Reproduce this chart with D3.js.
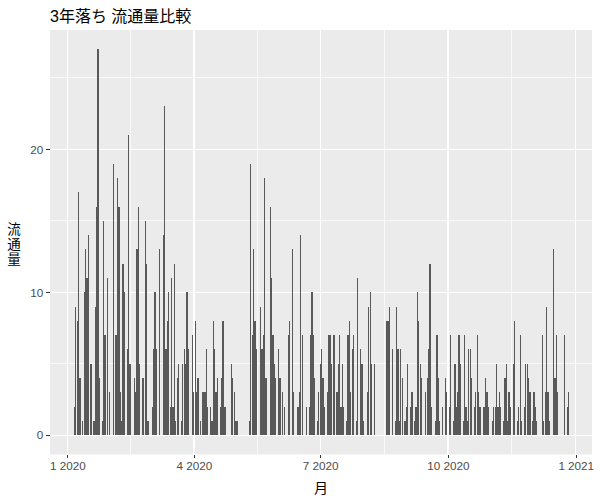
<!DOCTYPE html>
<html>
<head>
<meta charset="utf-8">
<script src="https://cdn.jsdelivr.net/npm/d3@7"></script>
<style>
  html, body { margin: 0; padding: 0; background: #ffffff; }
  svg { display: block; }
  text { font-family: "Liberation Sans", Arial, "Noto Sans CJK JP", sans-serif; }
</style>
</head>
<body>
<div id="chart"></div>
<script>
// ---------------- data ----------------
const chartTitle = "3年落ち 流通量比較";
const xTitle = "月";
const yTitle = "流通量";

const dates = [
"2020-01-06","2020-01-07","2020-01-08","2020-01-09","2020-01-10","2020-01-12","2020-01-13","2020-01-14","2020-01-15","2020-01-16",
"2020-01-18","2020-01-20","2020-01-21","2020-01-22","2020-01-23","2020-01-24","2020-01-26","2020-01-27","2020-01-28","2020-01-30",
"2020-01-31","2020-02-03","2020-02-05","2020-02-06","2020-02-07","2020-02-08","2020-02-09","2020-02-10","2020-02-11","2020-02-13",
"2020-02-14","2020-02-15","2020-02-18","2020-02-19","2020-02-20","2020-02-21","2020-02-22","2020-02-24","2020-02-25","2020-02-26",
"2020-02-27","2020-02-28","2020-03-02","2020-03-03","2020-03-04","2020-03-05","2020-03-07","2020-03-10","2020-03-11","2020-03-12",
"2020-03-13","2020-03-14","2020-03-15","2020-03-16","2020-03-17","2020-03-18","2020-03-19","2020-03-20","2020-03-21","2020-03-23",
"2020-03-24","2020-03-25","2020-03-26","2020-03-27","2020-03-28","2020-03-31","2020-04-01","2020-04-02","2020-04-03","2020-04-04",
"2020-04-06","2020-04-07","2020-04-08","2020-04-09","2020-04-10","2020-04-11","2020-04-13","2020-04-14","2020-04-15","2020-04-16",
"2020-04-17","2020-04-18","2020-04-20","2020-04-21","2020-04-22","2020-04-23","2020-04-24","2020-04-28","2020-04-29","2020-04-30",
"2020-05-01","2020-05-02","2020-05-11","2020-05-12","2020-05-13","2020-05-14","2020-05-15","2020-05-16","2020-05-19","2020-05-20",
"2020-05-21","2020-05-22","2020-05-23","2020-05-26","2020-05-27","2020-05-28","2020-05-29","2020-05-30","2020-06-01","2020-06-02",
"2020-06-04","2020-06-05","2020-06-08","2020-06-09","2020-06-11","2020-06-12","2020-06-15","2020-06-16","2020-06-17","2020-06-18",
"2020-06-21","2020-06-23","2020-06-24","2020-06-25","2020-06-26","2020-06-27","2020-06-29","2020-06-30","2020-07-01","2020-07-02",
"2020-07-03","2020-07-04","2020-07-06","2020-07-07","2020-07-08","2020-07-09","2020-07-11","2020-07-13","2020-07-14","2020-07-15",
"2020-07-16","2020-07-17","2020-07-18","2020-07-20","2020-07-21","2020-07-22","2020-07-23","2020-07-24","2020-07-25","2020-07-27",
"2020-07-28","2020-07-30","2020-07-31","2020-08-01","2020-08-04","2020-08-05","2020-08-06","2020-08-07","2020-08-09","2020-08-18",
"2020-08-19","2020-08-20","2020-08-22","2020-08-24","2020-08-25","2020-08-26","2020-08-27","2020-08-28","2020-08-29","2020-08-31",
"2020-09-01","2020-09-02","2020-09-04","2020-09-05","2020-09-07","2020-09-08","2020-09-09","2020-09-10","2020-09-11","2020-09-12",
"2020-09-15","2020-09-16","2020-09-17","2020-09-18","2020-09-19","2020-09-22","2020-09-23","2020-09-24","2020-09-25","2020-09-27",
"2020-09-29","2020-09-30","2020-10-02","2020-10-03","2020-10-05","2020-10-06","2020-10-07","2020-10-08","2020-10-09","2020-10-10",
"2020-10-12","2020-10-13","2020-10-14","2020-10-15","2020-10-16","2020-10-17","2020-10-18","2020-10-20","2020-10-21","2020-10-22",
"2020-10-23","2020-10-24","2020-10-27","2020-10-28","2020-10-29","2020-10-30","2020-11-02","2020-11-03","2020-11-04","2020-11-05",
"2020-11-06","2020-11-07","2020-11-08","2020-11-10","2020-11-11","2020-11-12","2020-11-13","2020-11-14","2020-11-15","2020-11-17",
"2020-11-18","2020-11-20","2020-11-21","2020-11-22","2020-11-23","2020-11-25","2020-11-26","2020-11-27","2020-11-28","2020-11-29",
"2020-12-01","2020-12-02","2020-12-03","2020-12-04","2020-12-08","2020-12-09","2020-12-10","2020-12-11","2020-12-12","2020-12-13",
"2020-12-16","2020-12-17","2020-12-18","2020-12-19","2020-12-24","2020-12-26","2020-12-27"
];

const counts = [
2,9,8,17,4,1,10,13,11,14,
5,1,9,16,27,4,1,15,7,11,
3,19,7,18,16,3,1,12,10,6,
21,5,4,3,13,16,5,4,4,15,
12,1,2,6,10,6,13,14,23,6,
8,10,2,11,2,12,1,4,5,1,
5,6,5,10,6,7,3,8,3,4,
1,3,3,3,6,2,2,1,8,6,
3,4,2,4,8,2,2,5,4,3,
1,1,1,19,7,13,8,6,9,6,
7,18,4,16,11,7,5,4,6,4,
3,2,7,8,13,3,2,3,14,7,
2,2,7,10,7,4,1,3,5,6,
4,2,3,7,7,5,7,3,5,7,
2,5,2,1,7,8,3,6,7,1,
11,6,5,1,3,9,10,5,5,8,
8,9,6,1,9,6,1,6,4,1,
2,5,2,3,1,2,10,8,5,4,
3,4,6,12,2,1,7,4,1,2,
4,3,2,7,1,5,2,3,7,5,
1,7,2,1,6,6,4,2,3,7,
3,2,2,4,3,2,1,2,2,5,
2,3,2,1,4,5,1,3,2,5,
8,1,2,7,1,2,5,5,4,3,
1,3,2,1,7,1,3,9,3,1,
13,4,7,3,7,2,3
];

const xTickDates = ["2020-01-01","2020-04-01","2020-07-01","2020-10-01","2021-01-01"];
const yTicks = [0, 10, 20];
const yMinorTicks = [5, 15, 25];

// ---------------- layout ----------------
const W = 600, H = 500;
const panel = { left: 50, right: 592, top: 30, bottom: 454.5 };
const DAY = 864e5;

const parse = d3.utcParse("%Y-%m-%d");
const data = dates.map((d, i) => ({ date: parse(d), value: counts[i] }));
const majorDates = xTickDates.map(parse);
const minorDates = d3.pairs(majorDates).map(([a, b]) => new Date((+a + +b) / 2));

const x = d3.scaleUtc()
  .domain([new Date(+majorDates[0] - 12.6 * DAY), new Date(+majorDates[majorDates.length - 1] + 11.7 * DAY)])
  .range([panel.left, panel.right]);

const y = d3.scaleLinear()
  .domain([-1.35, 28.35])
  .range([panel.bottom, panel.top]);

const svg = d3.select("#chart").append("svg")
  .attr("width", W).attr("height", H);

// panel background
svg.append("rect")
  .attr("x", panel.left).attr("y", panel.top)
  .attr("width", panel.right - panel.left).attr("height", panel.bottom - panel.top)
  .attr("fill", "#EBEBEB");

const grid = svg.append("g").attr("shape-rendering", "crispEdges");
// minor grid
grid.selectAll("line.ymin").data(yMinorTicks).join("line")
  .attr("x1", panel.left).attr("x2", panel.right)
  .attr("y1", d => y(d)).attr("y2", d => y(d))
  .attr("stroke", "#ffffff").attr("stroke-width", 0.7);
grid.selectAll("line.xmin").data(minorDates).join("line")
  .attr("y1", panel.top).attr("y2", panel.bottom)
  .attr("x1", d => x(d)).attr("x2", d => x(d))
  .attr("stroke", "#ffffff").attr("stroke-width", 0.7);
// major grid
grid.selectAll("line.ymaj").data(yTicks).join("line")
  .attr("x1", panel.left).attr("x2", panel.right)
  .attr("y1", d => y(d)).attr("y2", d => y(d))
  .attr("stroke", "#ffffff").attr("stroke-width", 1.4);
grid.selectAll("line.xmaj").data(majorDates).join("line")
  .attr("y1", panel.top).attr("y2", panel.bottom)
  .attr("x1", d => x(d)).attr("x2", d => x(d))
  .attr("stroke", "#ffffff").attr("stroke-width", 1.4);

// bars
svg.append("g").attr("shape-rendering", "crispEdges")
  .selectAll("rect").data(data).join("rect")
  .attr("x", d => x(new Date(+d.date - 0.45 * DAY)))
  .attr("width", d => x(new Date(+d.date + 0.45 * DAY)) - x(new Date(+d.date - 0.45 * DAY)))
  .attr("y", d => y(d.value))
  .attr("height", d => y(0) - y(d.value))
  .attr("fill", "#595959");

// axes
const fmt = d3.utcFormat("%-m %Y");
const xAxis = d3.axisBottom(x).tickValues(majorDates).tickFormat(fmt)
  .tickSize(3.7).tickPadding(3);
const yAxis = d3.axisLeft(y).tickValues(yTicks).tickFormat(d3.format("d"))
  .tickSize(3.7).tickPadding(3);

const gx = svg.append("g").attr("transform", `translate(0,${panel.bottom})`).call(xAxis);
const gy = svg.append("g").attr("transform", `translate(${panel.left},0)`).call(yAxis);
[gx, gy].forEach(g => {
  g.select(".domain").remove();
  g.selectAll(".tick line").attr("stroke", "#333333").attr("stroke-width", 1).attr("shape-rendering", "crispEdges");
  g.selectAll(".tick text").attr("fill", "#4D4D4D")
    .style("font-size", "11.7px")
    .style("font-family", '"Liberation Sans", Arial, sans-serif');
});

// title
svg.append("text")
  .attr("x", panel.left).attr("y", 22)
  .attr("fill", "#000000")
  .style("font-size", "16px")
  .style("font-family", '"Liberation Sans", "Noto Sans CJK JP", sans-serif')
  .text(chartTitle);

// x title
svg.append("text")
  .attr("x", (panel.left + panel.right) / 2).attr("y", 493)
  .attr("text-anchor", "middle")
  .attr("fill", "#000000")
  .style("font-size", "14px")
  .style("font-family", '"Noto Sans CJK JP", sans-serif')
  .text(xTitle);

// y title (vertical, upright characters)
svg.append("text")
  .attr("x", 14).attr("y", 222)
  .attr("fill", "#000000")
  .style("writing-mode", "vertical-rl")
  .style("text-orientation", "upright")
  .style("letter-spacing", "1.5px")
  .style("font-size", "13.5px")
  .style("font-family", '"Noto Sans CJK JP", sans-serif')
  .text(yTitle);
</script>
</body>
</html>
